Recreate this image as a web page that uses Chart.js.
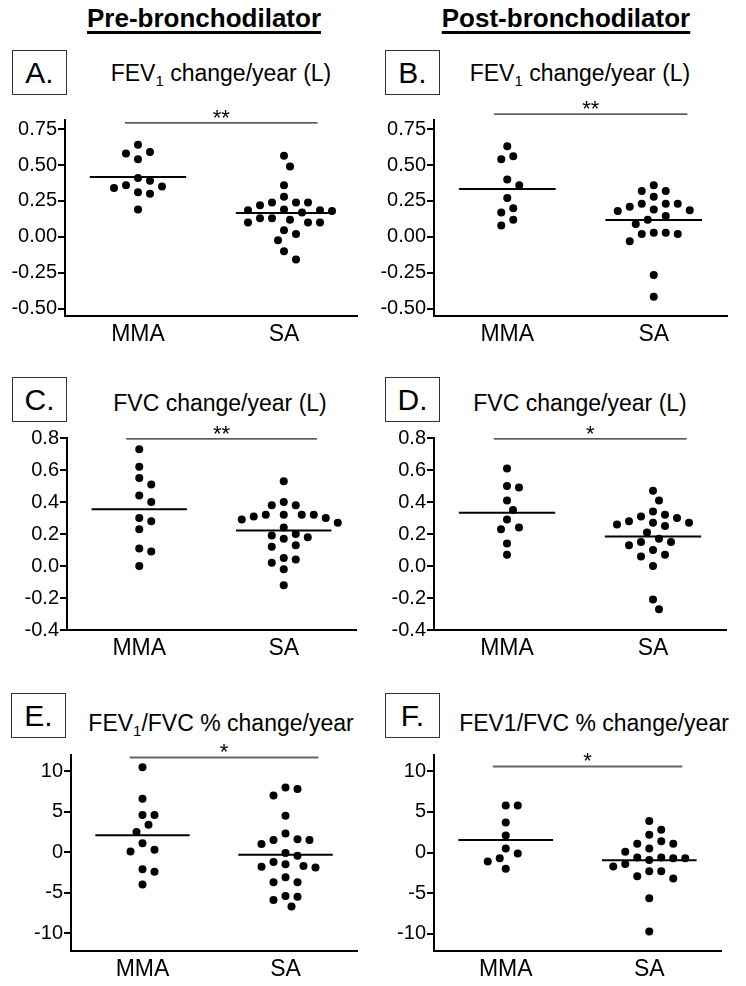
<!DOCTYPE html>
<html>
<head>
<meta charset="utf-8">
<script src="https://cdn.jsdelivr.net/npm/chart.js@4.4.1/dist/chart.umd.min.js"></script>
<style>
  body { margin: 0; background: #fff; font-family: "Liberation Sans", Arial, sans-serif; color: #000; }
  #page { position: relative; width: 746px; height: 986px; overflow: hidden; }
  .head { position: absolute; top: 5px; font-weight: bold; font-size: 26px; line-height: 26px;
          text-decoration: underline; text-decoration-thickness: 3px; text-underline-offset: 4px;
          transform: translateX(-50%); white-space: nowrap; }
  .box { position: absolute; width: 55px; height: 45px; box-sizing: border-box; border: 1px solid #333;
         font-size: 30px; display: flex; align-items: center; justify-content: center; }
  .ttl { position: absolute; font-size: 23px; line-height: 23px; white-space: nowrap; transform: translateX(-50%); }
  .ttl sub { font-size: 15px; vertical-align: -5px; line-height: 0; }
  canvas { position: absolute; }
</style>
</head>
<body>
<div id="page">
  <div class="head" style="left:204px">Pre-bronchodilator</div>
  <div class="head" style="left:566px">Post-bronchodilator</div>

  <div class="box" style="left:12px;top:50px">A.</div>
  <div class="box" style="left:385px;top:50px">B.</div>
  <div class="box" style="left:12px;top:377px">C.</div>
  <div class="box" style="left:385px;top:377px">D.</div>
  <div class="box" style="left:11px;top:693px">E.</div>
  <div class="box" style="left:385px;top:693px">F.</div>

  <div class="ttl" style="left:221px;top:62px">FEV<sub>1</sub> change/year (L)</div>
  <div class="ttl" style="left:580px;top:62px">FEV<sub>1</sub> change/year (L)</div>
  <div class="ttl" style="left:220px;top:392px">FVC change/year (L)</div>
  <div class="ttl" style="left:580px;top:392px">FVC change/year (L)</div>
  <div class="ttl" style="left:221px;top:712px">FEV<sub>1</sub>/FVC % change/year</div>
  <div class="ttl" style="left:594px;top:712px">FEV1/FVC % change/year</div>

  <canvas id="cA"></canvas>
  <canvas id="cB"></canvas>
  <canvas id="cC"></canvas>
  <canvas id="cD"></canvas>
  <canvas id="cE"></canvas>
  <canvas id="cF"></canvas>
</div>

<script>
// group names on the x axis
const groups = ['MMA', 'SA'];

// FEV1 change/year (L)
const preFev1MMA = [0.64, 0.58, 0.59, 0.54, 0.41, 0.35, 0.39, 0.36, 0.31, 0.30, 0.34, 0.19];
const preFev1SA = [0.565, 0.49, 0.36, 0.28, 0.24, 0.24, 0.24, 0.22, 0.17, 0.185, 0.19, 0.185, 0.18,
                   0.13, 0.13, 0.12, 0.10, 0.10, 0.10, 0.046, 0.02, -0.023, -0.10, -0.157];
const postFev1MMA = [0.63, 0.54, 0.56, 0.40, 0.36, 0.27, 0.20, 0.17, 0.12, 0.08];
const postFev1SA = [0.36, 0.32, 0.32, 0.28, 0.23, 0.23, 0.23, 0.185, 0.18, 0.19, 0.21, 0.12, 0.09,
                    0.145, 0.03, 0.02, 0.02, 0.03, -0.03, -0.265, -0.415];

// FVC change/year (L)
const preFvcMMA = [0.73, 0.62, 0.51, 0.55, 0.44, 0.40, 0.30, 0.28, 0.23, 0.11, 0.09, 0.00];
const preFvcSA = [0.53, 0.38, 0.38, 0.40, 0.32, 0.32, 0.31, 0.29, 0.30, 0.27, 0.32, 0.32, 0.24,
                  0.19, 0.17, 0.20, 0.18, 0.12, 0.13, 0.05, 0.02, 0.04, -0.02, -0.12];
const postFvcMMA = [0.61, 0.50, 0.49, 0.41, 0.35, 0.29, 0.24, 0.23, 0.14, 0.07];
const postFvcSA = [0.47, 0.41, 0.34, 0.32, 0.30, 0.31, 0.28, 0.27, 0.25, 0.26, 0.27, 0.21, 0.17,
                   0.15, 0.15, 0.10, 0.13, 0.06, 0.07, 0.00, -0.21, -0.27];

// FEV1/FVC % change/year
const preRatioMMA = [10.5, 6.6, 4.6, 4.6, 3.4, 2.5, 1.1, 0.1, 0.3, -2.1, -2.4, -4.0];
const preRatioSA = [8.0, 7.8, 7.0, 4.5, 2.3, 1.6, 1.5, 1.0, 1.5, -0.1, -0.45, -1.2, -1.7, -1.9,
                    -1.8, -1.5, -3.1, -3.7, -3.7, -5.5, -5.9, -5.4, -6.7];
const postRatioMMA = [5.8, 5.8, 3.7, 2.1, 0.5, -0.1, -0.7, -1.1, -2.0];
const postRatioSA = [3.9, 2.8, 2.2, 1.4, 1.1, 1.1, 0.1, 0.5, -0.6, -0.7, -0.6, -0.7, -0.9, -1.4,
                     -1.7, -2.3, -2.3, -3.2, -2.9, -5.6, -9.7];

// y tick labels
const ticksFev1 = [-0.5, -0.25, 0, 0.25, 0.5, 0.75];
const ticksFvc = [-0.4, -0.2, 0, 0.2, 0.4, 0.6, 0.8];
const ticksRatio = [-10, -5, 0, 5, 10];

// significance marks, panels A..F
const sigLabels = ['**', '**', '**', '*', '*', '*'];

Chart.defaults.font.family = '"Liberation Sans", Arial, sans-serif';
Chart.defaults.color = '#000';

const DOT_R = 4;
const STEP = 6;     // horizontal swarm step, px
const GAP = 11;     // min distance between dot centres, px
const HALF = 0.33;  // half width of mean line, axis units

const panels = [
  { id: 'cA', mma: preFev1MMA, sa: preFev1SA, ticks: ticksFev1, dec: 2, min: -0.549, max: 0.8125,
    bar: 0.792, barColor: '#222', barW: 1.2, left: 0, top: 95, h: 255, axisW: 65, padR: 16, padT: 25 },
  { id: 'cB', mma: postFev1MMA, sa: postFev1SA, ticks: ticksFev1, dec: 2, min: -0.549, max: 0.8125,
    bar: 0.854, barColor: '#222', barW: 1.2, left: 373, top: 95, h: 255, axisW: 61, padR: 19, padT: 25 },
  { id: 'cC', mma: preFvcMMA, sa: preFvcSA, ticks: ticksFvc, dec: 1, min: -0.4, max: 0.8,
    bar: 0.795, barColor: '#222', barW: 1.2, left: 0, top: 420, h: 244, axisW: 67, padR: 17, padT: 18 },
  { id: 'cD', mma: postFvcMMA, sa: postFvcSA, ticks: ticksFvc, dec: 1, min: -0.4, max: 0.8,
    bar: 0.795, barColor: '#222', barW: 1.2, left: 373, top: 420, h: 244, axisW: 61, padR: 20, padT: 18 },
  { id: 'cE', mma: preRatioMMA, sa: preRatioSA, ticks: ticksRatio, dec: 0, min: -12.2, max: 12,
    bar: 11.7, barColor: '#666', barW: 2, left: 0, top: 735, h: 250, axisW: 71, padR: 16, padT: 20 },
  { id: 'cF', mma: postRatioMMA, sa: postRatioSA, ticks: ticksRatio, dec: 0, min: -12.1, max: 12,
    bar: 10.6, barColor: '#666', barW: 2, left: 373, top: 735, h: 250, axisW: 61, padR: 25, padT: 20 }
];

const mean = arr => arr.reduce((s, v) => s + v, 0) / arr.length;

// asterisks above the significance bar
const sigPlugin = {
  id: 'sig',
  afterDatasetsDraw(chart, args, opts) {
    const pts = chart.getDatasetMeta(4).data;
    if (!pts || pts.length < 2) return;
    const ctx = chart.ctx;
    ctx.save();
    ctx.font = '22px "Liberation Sans", Arial, sans-serif';
    ctx.fillStyle = '#000';
    ctx.textAlign = 'center';
    ctx.textBaseline = 'alphabetic';
    ctx.fillText(opts.text, (pts[0].x + pts[1].x) / 2, pts[0].y + 2);
    ctx.restore();
  }
};

// spread dots of one group sideways so they do not overlap
function swarm(chart, dsIndex, center) {
  const xs = chart.scales.x, ys = chart.scales.y;
  const unit = xs.getPixelForValue(1) - xs.getPixelForValue(0);
  const data = chart.data.datasets[dsIndex].data;
  const pts = data.map((p, i) => ({ i: i, py: ys.getPixelForValue(p.y) }));
  pts.sort((a, b) => a.py - b.py);
  const placed = [];
  pts.forEach(p => {
    for (let k = 0; k < 60; k++) {
      const off = (k % 2 ? 1 : -1) * Math.ceil(k / 2) * STEP;
      const hit = placed.some(q => Math.hypot(q.px - off, q.py - p.py) < GAP);
      if (!hit) {
        placed.push({ px: off, py: p.py });
        data[p.i].x = center + off / unit;
        break;
      }
    }
  });
}

panels.forEach((pn, n) => {
  const cv = document.getElementById(pn.id);
  cv.width = 373;
  cv.height = pn.h;
  cv.style.left = pn.left + 'px';
  cv.style.top = pn.top + 'px';

  const mMMA = mean(pn.mma), mSA = mean(pn.sa);
  const dots = (vals, c) => ({
    data: vals.map(v => ({ x: c, y: v })),
    pointRadius: DOT_R, pointHoverRadius: DOT_R,
    backgroundColor: '#000', borderWidth: 0, showLine: false
  });
  const seg = (x0, x1, y, w, col, clip) => ({
    data: [{ x: x0, y: y }, { x: x1, y: y }],
    showLine: true, pointRadius: 0, borderColor: col, borderWidth: w, clip: clip
  });

  const chart = new Chart(cv.getContext('2d'), {
    type: 'scatter',
    data: {
      datasets: [
        dots(pn.mma, 0),
        dots(pn.sa, 1),
        seg(-HALF, HALF, mMMA, 2, '#000', undefined),
        seg(1 - HALF, 1 + HALF, mSA, 2, '#000', undefined),
        seg(-0.09, 1.23, pn.bar, pn.barW, pn.barColor, false)
      ]
    },
    options: {
      responsive: false,
      animation: false,
      devicePixelRatio: 1,
      layout: { padding: { left: 0, right: pn.padR, top: pn.padT, bottom: 0 } },
      plugins: {
        legend: { display: false },
        tooltip: { enabled: false },
        sig: { text: sigLabels[n] }
      },
      scales: {
        x: {
          type: 'linear', min: -0.5, max: 1.5,
          grid: { display: false, drawTicks: false },
          border: { display: true, color: '#000', width: 2 },
          afterBuildTicks: s => { s.ticks = groups.map((g, i) => ({ value: i })); },
          afterFit: s => { s.height = 34; },
          ticks: {
            autoSkip: false, maxRotation: 0, padding: 5,
            font: { size: 23 },
            callback: v => groups[v]
          }
        },
        y: {
          min: pn.min, max: pn.max,
          grid: { drawOnChartArea: false, color: '#000', lineWidth: 2, tickLength: 7 },
          border: { display: true, color: '#000', width: 2 },
          afterBuildTicks: s => { s.ticks = pn.ticks.map(v => ({ value: v })); },
          afterFit: s => { s.width = pn.axisW; },
          ticks: {
            padding: 1,
            font: { size: 20 },
            callback: v => Number(v).toFixed(pn.dec)
          }
        }
      }
    },
    plugins: [sigPlugin]
  });

  swarm(chart, 0, 0);
  swarm(chart, 1, 1);
  chart.update('none');
});
</script>
</body>
</html>
